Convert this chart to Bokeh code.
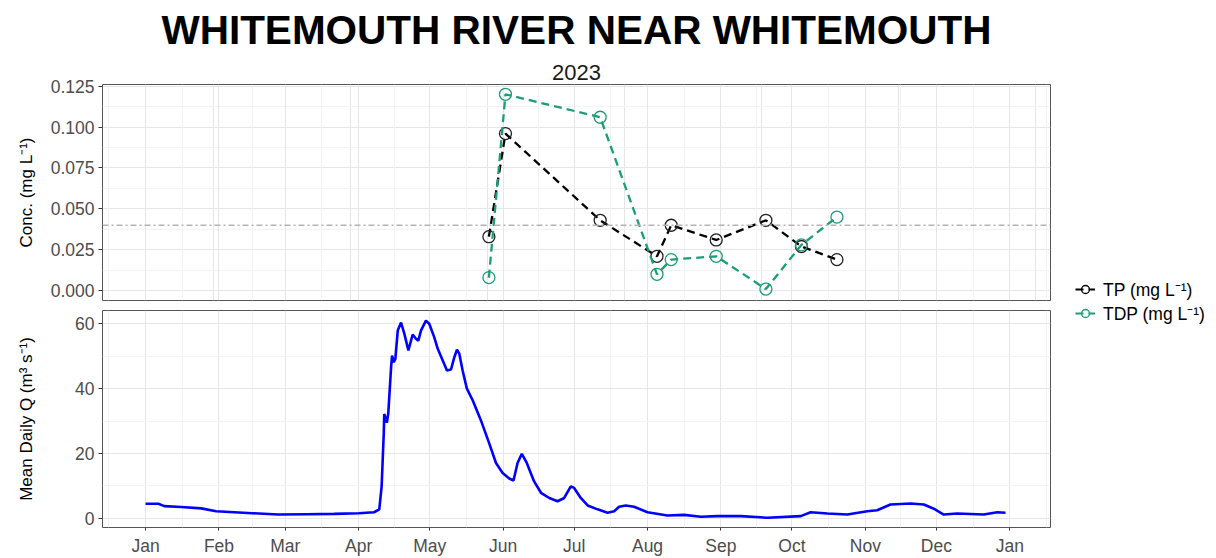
import pandas as pd
from bokeh.plotting import figure
from bokeh.models import (Range1d, FixedTicker, Grid, Title, Legend, LegendItem,
                          ColumnDataSource, DatetimeTickFormatter, NumeralTickFormatter, Span)
from bokeh.layouts import row, column
from bokeh.embed import file_html
from bokeh.resources import INLINE

# ---------------- data ----------------
title_text = "WHITEMOUTH RIVER NEAR WHITEMOUTH"
subtitle_text = "2023"
year_start = "2023-01-01"
year_end = "2023-12-31"

sample_dates = ["2023-05-26", "2023-06-02", "2023-07-12", "2023-08-05", "2023-08-11",
                "2023-08-30", "2023-09-20", "2023-10-05", "2023-10-20"]
tp_values = [0.033, 0.096, 0.043, 0.021, 0.040, 0.031, 0.043, 0.027, 0.019]
tdp_values = [0.008, 0.120, 0.106, 0.010, 0.019, 0.021, 0.001, 0.028, 0.045]
tp_label = "TP (mg L\u207b\u00b9)"
tdp_label = "TDP (mg L\u207b\u00b9)"
threshold = 0.04

# mean daily discharge, read at day offsets from Jan 1
flow_day = [0, 5.4, 7.9, 15, 23.5, 29.8, 37.4, 45, 56, 68,
            79.6, 90, 96.5, 98.7, 99.7, 100.6, 100.8, 101.9, 102.5, 103.7,
            104.1, 104.8, 105.5, 106.5, 107.9, 109.3, 111, 112.8, 114.2, 115.2,
            116.3, 118.4, 119.8, 121.9, 123.4, 125.5, 127.3, 129, 130.4, 131.5,
            132.5, 133.9, 135.7, 138.1, 141.6, 145.1, 148, 150.8, 153.6, 155.4,
            157.1, 158.9, 161, 164.1, 167, 170.5, 174, 176.8, 179.6, 181,
            183.8, 186.7, 190.9, 195.1, 197.9, 200, 202.8, 206.3, 212, 220.4,
            227.4, 234.5, 241.5, 251.4, 262.6, 276.7, 280.9, 288, 296.4, 304.8,
            309, 314.6, 323.1, 328.7, 332.9, 337.1, 342.8, 354, 359.7, 363.2]
flow_q = [4.5, 4.5, 3.8, 3.5, 3.1, 2.2, 1.9, 1.6, 1.2, 1.3,
          1.4, 1.6, 1.9, 2.8, 9.9, 26.3, 32.2, 29.5, 32.4, 46.7,
          50.2, 48.2, 49.2, 57.9, 60.4, 56.9, 51.8, 56.7, 55.4, 54.8,
          57.9, 61.0, 60.0, 55.9, 52.3, 48.7, 45.6, 45.9, 49.7, 52.0,
          50.8, 45.6, 40.0, 36.5, 30.3, 23.2, 17.1, 14.0, 12.3, 11.7,
          17.1, 19.9, 17.1, 11.4, 7.9, 6.3, 5.3, 6.3, 9.9, 9.4,
          6.3, 4.0, 2.8, 1.75, 2.2, 3.6, 4.0, 3.6, 1.9, 0.9,
          1.1, 0.5, 0.7, 0.7, 0.2, 0.7, 1.9, 1.5, 1.2, 2.2,
          2.5, 4.3, 4.6, 4.3, 3.0, 1.2, 1.5, 1.2, 1.9, 1.75]

conc_ticks = [0.0, 0.025, 0.05, 0.075, 0.1, 0.125]
flow_ticks = [0, 20, 40, 60]
conc_label = "Conc. (mg L\u207b\u00b9)"
flow_label = "Mean Daily Q (m\u00b3 s\u207b\u00b9)"

# ---------------- helpers ----------------
FONT = "Liberation Sans"
EPOCH = pd.Timestamp("1970-01-01")


def to_ms(ts):
    return (pd.to_datetime(ts) - EPOCH) / pd.Timedelta(milliseconds=1)


base = pd.Timestamp(year_start)
flow_dates = base + pd.to_timedelta(flow_day, unit="D")
samp = pd.to_datetime(sample_dates)

span_days = (pd.Timestamp(year_end) - base).days
pad = pd.Timedelta(days=span_days * 0.05)
xr = Range1d(start=to_ms(base - pad), end=to_ms(pd.Timestamp(year_end) + pad))

months = pd.date_range(year_start, "2024-01-01", freq="MS")
major_ms = [float(to_ms(m)) for m in months]
minor_ms = [(a + b) / 2 for a, b in zip(major_ms[:-1], major_ms[1:])]
minor_ms = [major_ms[0] - (minor_ms[0] - major_ms[0])] + minor_ms + [major_ms[-1] + (major_ms[-1] - minor_ms[-1])]

conc_minor = [(a + b) / 2 for a, b in zip(conc_ticks[:-1], conc_ticks[1:])]
flow_minor = [(a + b) / 2 for a, b in zip(flow_ticks[:-1], flow_ticks[1:])]

MAJOR_GRID = "#E6E6E6"
MINOR_GRID = "#F3F3F3"
BORDER = "#555555"
TICKLAB = "#4D4D4D"
TDP_COL = "#1B9E77"

LEFT = 102      # frame left edge
RIGHT = 8       # gap between frame right edge and legend column
COLW = 1058     # width of the panel column
TOTAL_H = 558


def style_y(p, ticks, minor, fmt, standoff):
    ax = p.yaxis[0]
    ax.ticker = FixedTicker(ticks=ticks, minor_ticks=minor)
    if fmt:
        ax.formatter = NumeralTickFormatter(format=fmt)
    ax.axis_line_color = None
    ax.major_tick_out = 4
    ax.major_tick_in = 0
    ax.major_tick_line_color = "#333333"
    ax.minor_tick_line_color = None
    ax.major_label_standoff = 4
    ax.major_label_text_font = FONT
    ax.major_label_text_font_size = "17.5px"
    ax.major_label_text_color = TICKLAB
    ax.axis_label_text_font = FONT
    ax.axis_label_text_font_size = "17px"
    ax.axis_label_text_font_style = "normal"
    ax.axis_label_text_color = "black"
    ax.axis_label_standoff = standoff
    g = p.ygrid[0]
    g.grid_line_color = MAJOR_GRID
    g.grid_line_width = 1
    g.minor_grid_line_color = MINOR_GRID
    g.minor_grid_line_width = 1


# ---------------- top panel ----------------
p1 = figure(width=COLW, height=303, x_range=xr, y_range=Range1d(-0.006, 0.126),
            x_axis_location=None, title=None, output_backend="svg", toolbar_location=None,
            min_border_left=LEFT, min_border_right=RIGHT, min_border_top=0, min_border_bottom=3,
            y_axis_label=conc_label)
p1.outline_line_color = BORDER
p1.outline_line_width = 1
style_y(p1, conc_ticks, conc_minor, "0.000", 12)
p1.add_layout(Grid(dimension=0, ticker=FixedTicker(ticks=major_ms, minor_ticks=minor_ms),
                   grid_line_color=MAJOR_GRID, minor_grid_line_color=MINOR_GRID), "center")

p1.add_layout(Span(location=threshold, dimension="width", line_color="#B3B3B3",
                   line_width=1.3, line_dash="6 3 2 3"))

src_s = ColumnDataSource(dict(date=samp, tp=tp_values, tdp=tdp_values))
p1.line("date", "tp", source=src_s, line_color="black", line_width=2.3, line_dash="8 5")
p1.scatter("date", "tp", source=src_s, marker="circle", size=12, fill_color=None,
           line_color="#222222", line_width=1.3)
p1.line("date", "tdp", source=src_s, line_color=TDP_COL, line_width=2.3, line_dash="8 5")
p1.scatter("date", "tdp", source=src_s, marker="circle", size=12, fill_color=None,
           line_color=TDP_COL, line_width=1.3)

p1.add_layout(Title(text=subtitle_text, align="center", text_font=FONT, text_font_size="22px",
                    text_font_style="normal", text_color="#1A1A1A", standoff=10), "above")
p1.add_layout(Title(text=title_text, align="center", text_font=FONT, text_font_size="40.5px",
                    text_font_style="bold", text_color="black", standoff=9), "above")

# ---------------- bottom panel ----------------
p2 = figure(width=COLW, height=TOTAL_H - 303, x_range=xr, y_range=Range1d(-2.8, 64.1),
            x_axis_type="datetime", title=None, output_backend="svg", toolbar_location=None,
            min_border_left=LEFT, min_border_right=RIGHT, min_border_top=7, min_border_bottom=30,
            y_axis_label=flow_label)
p2.outline_line_color = BORDER
p2.outline_line_width = 1
style_y(p2, flow_ticks, flow_minor, None, 36)
xa = p2.xaxis[0]
xa.ticker = FixedTicker(ticks=major_ms, minor_ticks=minor_ms)
xa.formatter = DatetimeTickFormatter(milliseconds="%b", seconds="%b", minsec="%b", minutes="%b",
                                     hourmin="%b", hours="%b", days="%b", months="%b", years="%b")
xa.axis_line_color = None
xa.major_tick_out = 3
xa.major_tick_in = 0
xa.major_tick_line_color = "#333333"
xa.minor_tick_line_color = None
xa.major_label_standoff = 4
xa.major_label_text_font = FONT
xa.major_label_text_font_size = "17.5px"
xa.major_label_text_color = TICKLAB
xg = p2.xgrid[0]
xg.grid_line_color = MAJOR_GRID
xg.minor_grid_line_color = MINOR_GRID

src_f = ColumnDataSource(dict(date=flow_dates, q=flow_q))
p2.line("date", "q", source=src_f, line_color="#0000FF", line_width=2.6)

# ---------------- legend panel ----------------
pl = figure(width=1216 - COLW, height=TOTAL_H, x_range=Range1d(0, 1), y_range=Range1d(0, 1),
            x_axis_location=None, y_axis_location=None, title=None, output_backend="svg",
            toolbar_location=None, min_border=0)
pl.outline_line_color = None
pl.xgrid.visible = False
pl.ygrid.visible = False
offscreen = ColumnDataSource(dict(x=[5, 6], y=[5, 6]))   # outside the (hidden) legend frame
l1 = pl.line("x", "y", source=offscreen, line_color="black", line_width=2.0, line_dash="8 5")
m1 = pl.scatter("x", "y", source=offscreen, marker="circle", fill_color=None, line_color="black", line_width=1.3)
l2 = pl.line("x", "y", source=offscreen, line_color=TDP_COL, line_width=2.0, line_dash="8 5")
m2 = pl.scatter("x", "y", source=offscreen, marker="circle", fill_color=None, line_color=TDP_COL, line_width=1.3)
legend = Legend(items=[LegendItem(label=tp_label, renderers=[l1, m1]),
                       LegendItem(label=tdp_label, renderers=[l2, m2])],
                location=(17, 233), orientation="vertical", padding=0, margin=0, spacing=0,
                glyph_width=20, glyph_height=20, label_height=20, label_standoff=8,
                label_text_font=FONT, label_text_font_size="17.5px", label_text_color="black",
                background_fill_alpha=0, border_line_color=None)
pl.add_layout(legend, "center")

layout = row(column(p1, p2), pl)
open("out.html", "w").write(file_html(layout, INLINE))
